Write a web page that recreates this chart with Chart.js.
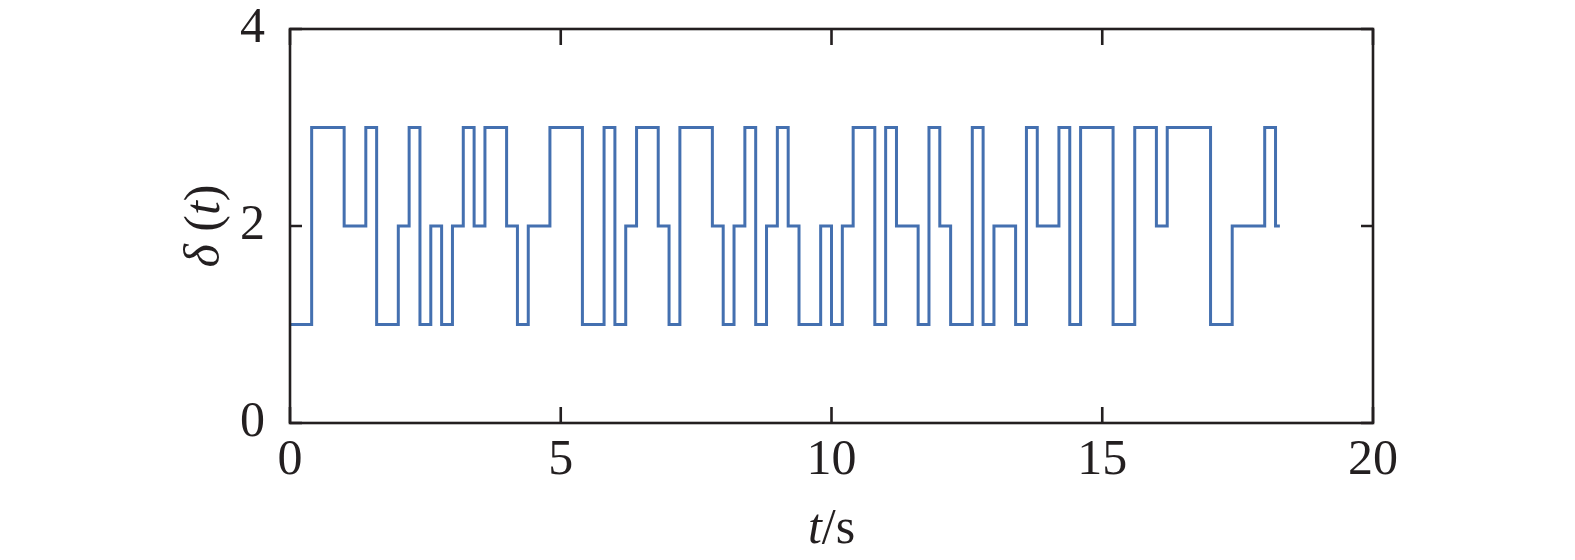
<!DOCTYPE html>
<html>
<head>
<meta charset="utf-8">
<script src="https://cdn.jsdelivr.net/npm/chart.js@4.4.1/dist/chart.umd.min.js"></script>
<style>
  html, body { margin: 0; padding: 0; background: #fff; }
  #wrap { width: 1575px; height: 560px; }
</style>
</head>
<body>
<div id="wrap"><canvas id="chart"></canvas></div>
<script>
// Data: switching times (s) and the level held from each time on
const switchTimes = [0, 0.4, 1.0, 1.4, 1.6, 2.0, 2.2, 2.4, 2.6, 2.8, 3.0, 3.2, 3.4, 3.6, 4.0, 4.2, 4.4, 4.8,
  5.4, 5.8, 6.0, 6.2, 6.4, 6.8, 7.0, 7.2, 7.8, 8.0, 8.2, 8.4, 8.6, 8.8, 9.0, 9.2, 9.4, 9.8,
  10.0, 10.2, 10.4, 10.8, 11.0, 11.2, 11.6, 11.8, 12.0, 12.2, 12.6, 12.8, 13.0, 13.4, 13.6, 13.8,
  14.2, 14.4, 14.6, 15.2, 15.6, 16.0, 16.2, 17.0, 17.4, 18.0, 18.2, 18.28];
const levels = [1, 3, 2, 3, 1, 2, 3, 1, 2, 1, 2, 3, 2, 3, 2, 1, 2, 3,
  1, 3, 1, 2, 3, 2, 1, 3, 2, 1, 2, 3, 1, 2, 3, 2, 1, 2,
  1, 2, 3, 1, 3, 2, 1, 3, 2, 1, 3, 1, 2, 1, 3, 2,
  3, 1, 3, 1, 3, 2, 3, 1, 2, 3, 2, 2];
const xTicks = [0, 5, 10, 15, 20];
const yTicks = [0, 2, 4];

const FONT = "'Liberation Serif', 'Times New Roman', serif";
const INK = '#231f20';

const points = switchTimes.map((t, i) => ({ x: t, y: levels[i] }));

// frame, inward ticks and axis titles
const framePlugin = {
  id: 'frame',
  afterDraw(chart) {
    const { ctx, chartArea: a, scales } = chart;
    const xs = scales.x, ys = scales.y;
    ctx.save();
    ctx.strokeStyle = INK;
    ctx.lineWidth = 2.6;
    ctx.beginPath();
    xTicks.forEach(v => {
      const px = xs.getPixelForValue(v);
      ctx.moveTo(px, a.bottom); ctx.lineTo(px, a.bottom - 16);
      ctx.moveTo(px, a.top); ctx.lineTo(px, a.top + 16);
    });
    yTicks.forEach(v => {
      const py = ys.getPixelForValue(v);
      ctx.moveTo(a.left, py); ctx.lineTo(a.left + 12, py);
      ctx.moveTo(a.right, py); ctx.lineTo(a.right - 12, py);
    });
    ctx.stroke();
    ctx.lineJoin = 'miter';
    ctx.strokeRect(a.left, a.top, a.right - a.left, a.bottom - a.top);

    // x title: t/s
    ctx.fillStyle = INK;
    ctx.textBaseline = 'alphabetic';
    const cx = xs.getPixelForValue(10);
    ctx.font = 'italic 50px ' + FONT;
    const wt = ctx.measureText('t').width;
    ctx.font = '50px ' + FONT;
    const wr = ctx.measureText('/s').width;
    let x0 = cx - (wt + wr) / 2;
    ctx.font = 'italic 50px ' + FONT;
    ctx.fillText('t', x0, 543);
    ctx.font = '50px ' + FONT;
    ctx.fillText('/s', x0 + wt, 543);

    // y title: δ (t)
    ctx.translate(219, ys.getPixelForValue(2));
    ctx.rotate(-Math.PI / 2);
    const parts = [['italic', 'δ'], ['', ' ('], ['italic', 't'], ['', ')']];
    let total = 0;
    parts.forEach(p => { ctx.font = (p[0] ? p[0] + ' ' : '') + '50px ' + FONT; total += ctx.measureText(p[1]).width; });
    let px = -total / 2;
    parts.forEach(p => {
      ctx.font = (p[0] ? p[0] + ' ' : '') + '50px ' + FONT;
      ctx.fillText(p[1], px, 0);
      px += ctx.measureText(p[1]).width;
    });
    ctx.restore();
  }
};

new Chart(document.getElementById('chart'), {
  type: 'line',
  data: {
    datasets: [{
      data: points,
      stepped: true,
      borderColor: '#4470b0',
      borderWidth: 3,
      pointRadius: 0,
      fill: false
    }]
  },
  options: {
    responsive: true,
    maintainAspectRatio: false,
    animation: false,
    layout: { padding: { top: 29, right: 202, left: 0, bottom: 0 } },
    plugins: { legend: { display: false }, tooltip: { enabled: false } },
    scales: {
      x: {
        type: 'linear',
        min: 0, max: 20,
        afterFit(scale) { scale.height = 137; scale.paddingLeft = 0; scale.paddingRight = 0; },
        afterBuildTicks(scale) { scale.ticks = xTicks.map(v => ({ value: v })); },
        grid: { display: false, drawTicks: false },
        border: { display: false },
        ticks: { color: INK, font: { family: FONT, size: 50 }, padding: 8, maxRotation: 0 }
      },
      y: {
        type: 'linear',
        min: 0, max: 4,
        afterFit(scale) { scale.width = 290; scale.paddingTop = 0; scale.paddingBottom = 0; },
        afterBuildTicks(scale) { scale.ticks = yTicks.map(v => ({ value: v })); },
        grid: { display: false, drawTicks: false },
        border: { display: false },
        ticks: { color: INK, font: { family: FONT, size: 50 }, padding: 25 }
      }
    }
  },
  plugins: [framePlugin]
});
</script>
</body>
</html>
